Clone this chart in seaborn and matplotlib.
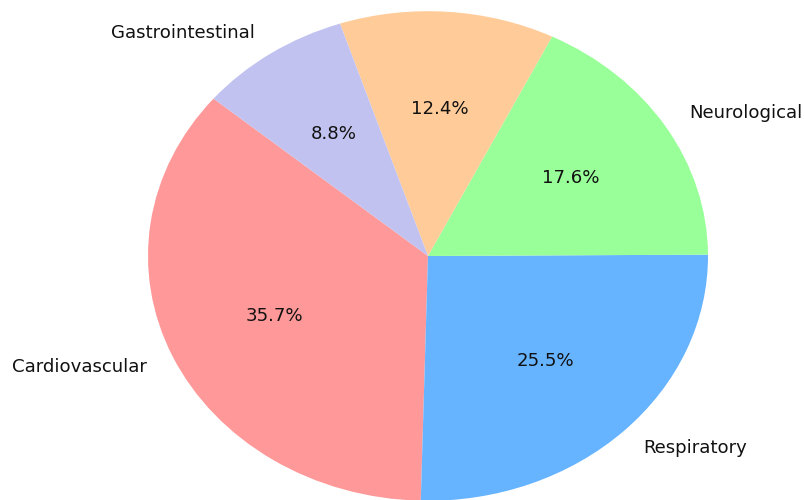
import matplotlib
matplotlib.use("Agg")
import matplotlib.pyplot as plt
import seaborn as sns

sns.set_theme(style="white")
plt.rcParams['font.family'] = ['DejaVu Sans']

categories = ["Cardiovascular", "Respiratory", "Neurological", "", "Gastrointestinal"]
shares = [35.7, 25.5, 17.6, 12.4, 8.8]
colors = ["#ff9999", "#66b3ff", "#99ff99", "#ffcc99", "#c2c2f0"]

fig = plt.figure(figsize=(8.05, 5.0), dpi=100)
ax = fig.add_axes([78/805, -62/500, 700/805, 612/500])
ax.pie(shares, labels=categories, colors=colors, autopct="%1.1f%%",
       startangle=140, wedgeprops={"linewidth": 0, "edgecolor": "none"},
       textprops={"fontsize": 13.1, "color": "#111111"})
ax.set_aspect("auto")
ax.set_xlim(-1.25, 1.25)
ax.set_ylim(-1.25, 1.25)
ax.axis("off")
fig.savefig("out.png", dpi=100)
